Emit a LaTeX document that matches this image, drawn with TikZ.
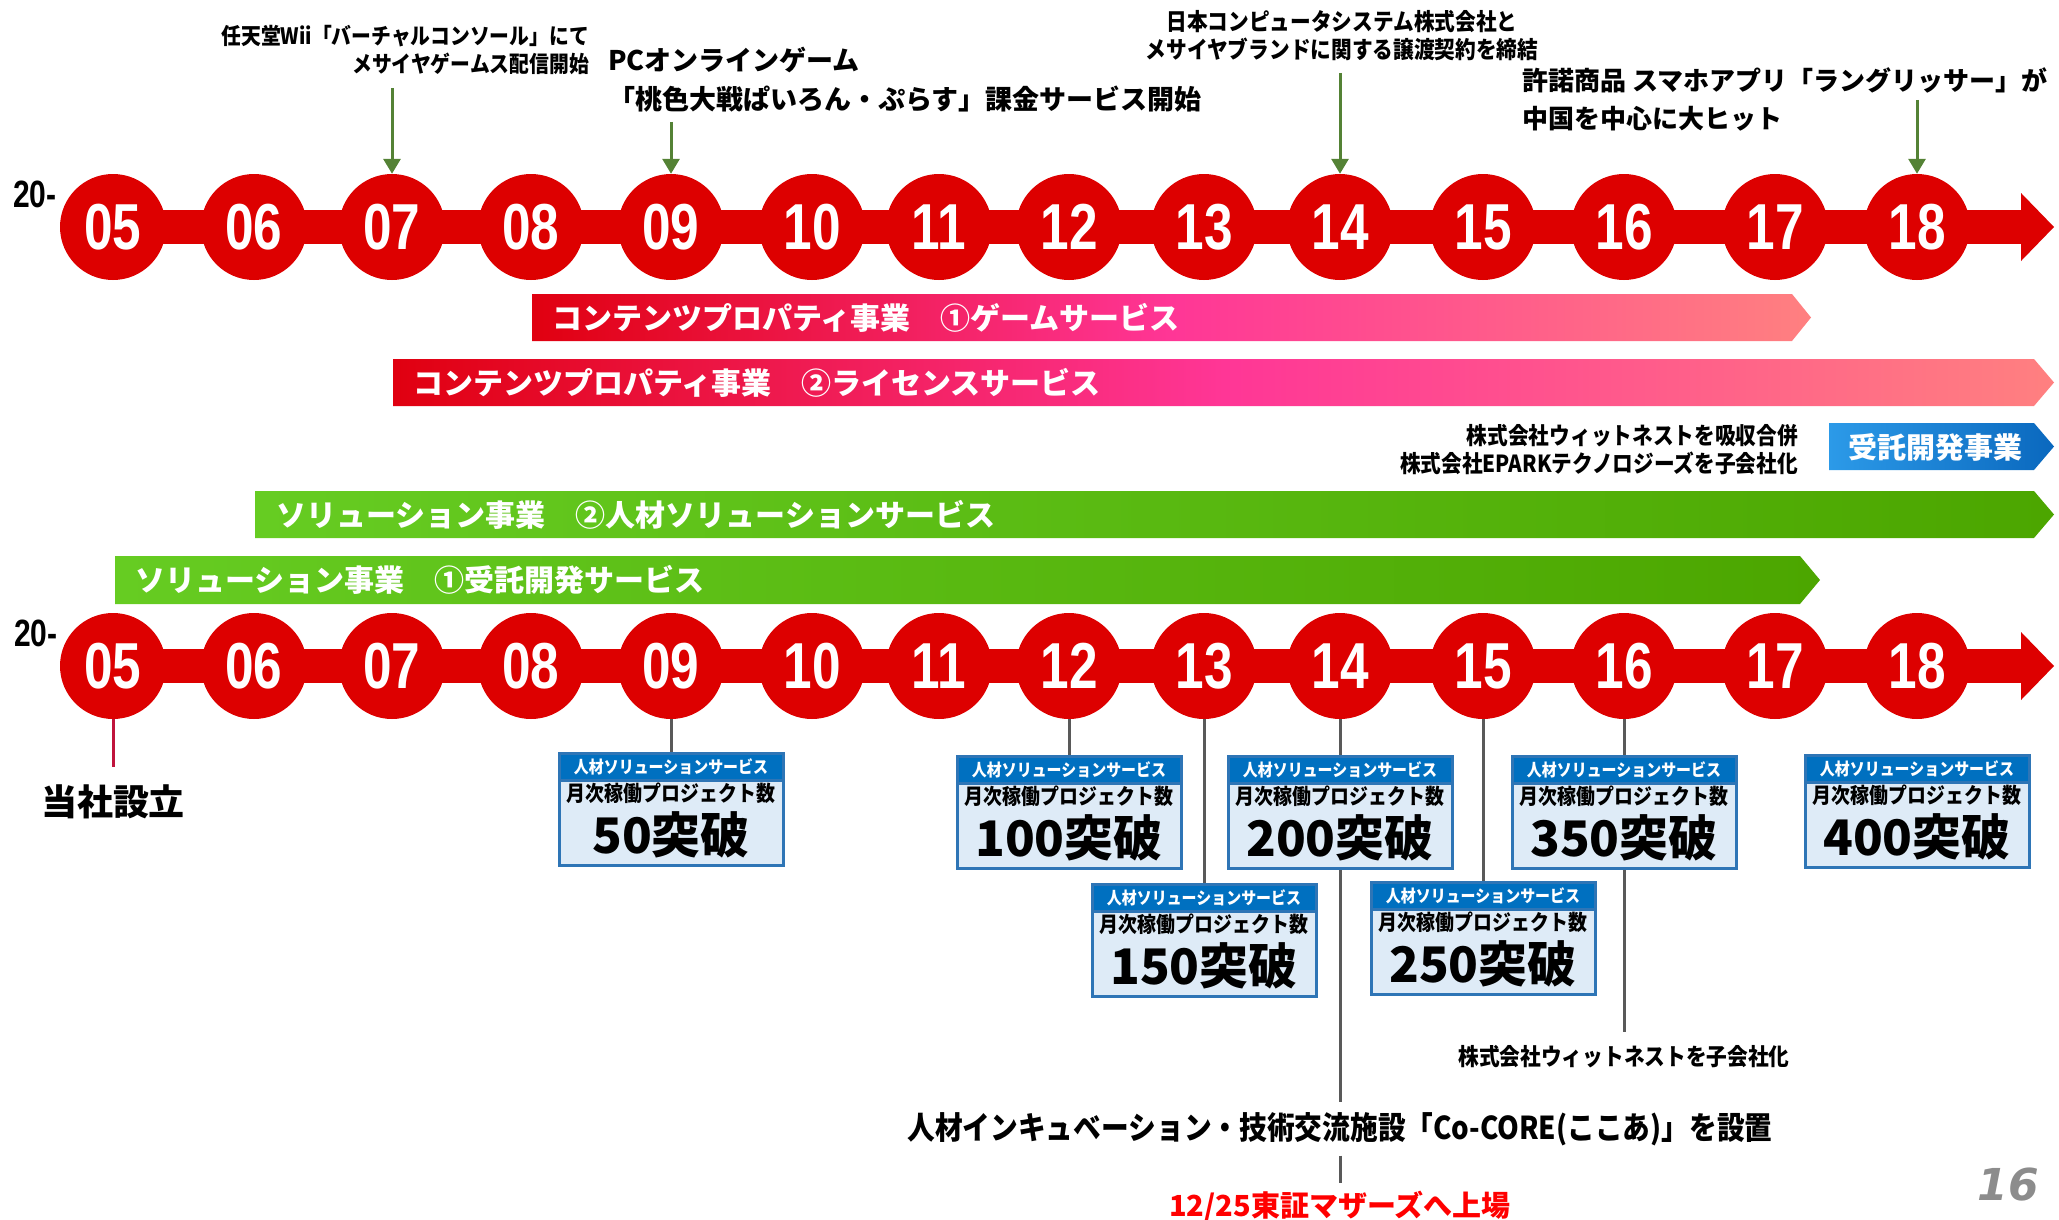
\documentclass[tikz,border=0pt]{standalone}
\usepackage{fontspec}
\setmainfont{Noto Sans CJK JP}
\newfontfamily\jpcond{Noto Sans CJK JP}[FakeStretch=0.88]
\newfontfamily\numfont{Liberation Sans}[FakeStretch=0.79]
\newfontfamily\pagefont{DejaVu Sans}
\usetikzlibrary{positioning, arrows.meta, calc}

\definecolor{tlred}{RGB}{221,0,0}
\definecolor{barred}{RGB}{224,0,16}
\definecolor{barpink}{RGB}{255,54,150}
\definecolor{barsalmon}{RGB}{255,128,128}
\definecolor{grnleft}{RGB}{102,204,34}
\definecolor{grnright}{RGB}{76,166,0}
\definecolor{blueleft}{RGB}{44,154,232}
\definecolor{blueright}{RGB}{10,104,190}
\definecolor{hdrblue}{RGB}{0,112,192}
\definecolor{boxedge}{RGB}{46,117,182}
\definecolor{boxfill}{RGB}{222,235,247}
\definecolor{stemgray}{RGB}{89,89,89}
\definecolor{evgreen}{RGB}{84,130,53}
\definecolor{foundred}{RGB}{192,20,60}
\definecolor{tsered}{RGB}{255,0,0}
\definecolor{pagegray}{RGB}{140,140,140}

\tikzset{
  yearball/.style={circle, fill=tlred, minimum size=106pt, inner sep=0pt, text=white,
    font=\numfont\bfseries\fontsize{65}{65}\selectfont},
  yearlabel/.style={inner sep=0pt, font=\numfont\bfseries\fontsize{38}{38}\selectfont},
  bartext/.style={anchor=west, text=white, inner sep=0pt, font=\bfseries\fontsize{30}{30}\selectfont},
  event/.style={inner sep=0pt, font=\bfseries},
  evarrow/.style={-{Triangle[width=17pt,length=15pt]}, line width=3pt, draw=evgreen},
  stem/.style={line width=3pt, draw=stemgray},
  foundline/.style={line width=3pt, draw=foundred},
  boxbody/.style={draw=boxedge, line width=3pt, fill=boxfill, minimum width=224pt,
    minimum height=112pt, inner sep=0pt, anchor=north},
  boxhead/.style={draw=boxedge, line width=3pt, fill=hdrblue, minimum width=224pt,
    minimum height=27pt, inner sep=0pt, anchor=north, text=white,
    font=\jpcond\bfseries\fontsize{17}{17}\selectfont},
}

% project count box: name, x, top, count
\newcommand\projbox[4]{%
  \node[boxbody] (#1) at (#2,#3) {};
  \node[boxhead] (#1h) at (#1.north) {人材ソリューションサービス};
  \node[inner sep=0pt, font=\jpcond\bfseries\fontsize{21.5}{21.5}\selectfont] (#1a) at ($(#1.north)+(0,41)$) {月次稼働プロジェクト数};
  \node[inner sep=0pt, font=\bfseries\fontsize{49}{49}\selectfont] (#1b) at ($(#1.north)+(0,83)$) {#4突破};
}

\begin{document}
\begin{tikzpicture}[x=1pt, y=-1pt]
	\useasboundingbox (0,0) rectangle (2059,1220);
	
	% timelines
	\fill[tlred] (113,210) rectangle (2022,244);
	\fill[tlred] (2021,193) -- (2054,227) -- (2021,261) -- cycle;
	\fill[tlred] (113,649) rectangle (2022,683);
	\fill[tlred] (2021,632) -- (2054,666) -- (2021,700) -- cycle;
	
	\foreach \yr/\xx in {05/113, 06/254, 07/392, 08/531, 09/671, 10/812, 11/939,
	                     12/1069, 13/1204, 14/1340, 15/1483, 16/1624, 17/1775, 18/1917} {
		\node[yearball] (t\yr) at (\xx,227) {\yr};
		\node[yearball] (b\yr) at (\xx,666) {\yr};
	}
	
	\node[yearlabel] (yr20t) at (35,194) {20-};
	\node[yearlabel] (yr20b) at (36,633) {20-};
	
	% business bars
	\shade[left color=barred, right color=barsalmon, middle color=barpink]
		(532,294) -- (1792,294) -- (1811,317.5) -- (1792,341) -- (532,341) -- cycle;
	\node[bartext] (gamebar) at (552,318) {コンテンツプロパティ事業　①ゲームサービス};
	
	\shade[left color=barred, right color=barsalmon, middle color=barpink]
		(393,359) -- (2034,359) -- (2054,382.5) -- (2034,406) -- (393,406) -- cycle;
	\node[bartext] (licbar) at (413,383) {コンテンツプロパティ事業　②ライセンスサービス};
	
	\shade[left color=blueleft, right color=blueright]
		(1829,423) -- (2034,423) -- (2054,446.5) -- (2034,470) -- (1829,470) -- cycle;
	\node[bartext, anchor=center, font=\bfseries\fontsize{29}{29}\selectfont] (jutaku) at (1935,447) {受託開発事業};
	
	\shade[left color=grnleft, right color=grnright]
		(255,491) -- (2034,491) -- (2054,514.5) -- (2034,538) -- (255,538) -- cycle;
	\node[bartext] (hrbar) at (276,515) {ソリューション事業　②人材ソリューションサービス};
	
	\shade[left color=grnleft, right color=grnright]
		(115,556) -- (1800,556) -- (1820,580) -- (1800,604) -- (115,604) -- cycle;
	\node[bartext] (devbar) at (135,580) {ソリューション事業　①受託開発サービス};
	
	\node[event, align=right, anchor=east, font=\jpcond\bfseries\fontsize{23.5}{28}\selectfont] (witmerge) at (1798,450)
		{株式会社ウィットネストを吸収合併\\株式会社EPARKテクノロジーズを子会社化};
	
	% events above
	\node[event, align=right, anchor=east, font=\jpcond\bfseries\fontsize{22.5}{28}\selectfont] (wii) at (589,50)
		{任天堂Wii「バーチャルコンソール」にて\\メサイヤゲームス配信開始};
	\node[event, align=left, anchor=west, font=\bfseries\fontsize{27}{39}\selectfont] (pcgame) at (608,80)
		{PCオンラインゲーム\\「桃色大戦ぱいろん・ぷらす」課金サービス開始};
	\node[event, align=center, font=\jpcond\bfseries\fontsize{23.5}{28}\selectfont] (jcs) at (1342,36)
		{日本コンピュータシステム株式会社と\\メサイヤブランドに関する譲渡契約を締結};
	\node[event, align=left, anchor=west, font=\bfseries\fontsize{26}{38}\selectfont] (langrisser) at (1522,99)
		{許諾商品 スマホアプリ「ラングリッサー」が\\中国を中心に大ヒット};
	
	\coordinate (ev07) at (392,88);
	\coordinate (ev09) at (671,122);
	\coordinate (ev14) at (1340,73);
	\coordinate (ev18) at (1917,100);
	\draw[evarrow] (ev07) -- (t07);
	\draw[evarrow] (ev09) -- (t09);
	\draw[evarrow] (ev14) -- (t14);
	\draw[evarrow] (ev18) -- (t18);
	
	% events below
	\node[event, outer sep=18pt, font=\bfseries\fontsize{36}{36}\selectfont] (found) at (113,802) {当社設立};
	\draw[foundline] (b05) -- (found);
	
	\projbox{p50}{671}{752}{50}
	\projbox{p100}{1069}{755}{100}
	\projbox{p200}{1340}{755}{200}
	\projbox{p350}{1624}{755}{350}
	\projbox{p400}{1917}{754}{400}
	\projbox{p150}{1204}{883}{150}
	\projbox{p250}{1483}{881}{250}
	
	\node[event, outer sep=10pt, font=\jpcond\bfseries\fontsize{31.5}{31.5}\selectfont] (cocore) at (1340,1129)
		{人材インキュベーション・技術交流施設「Co-CORE(ここあ)」を設置};
	\node[event, outer sep=8pt, text=tsered, font=\bfseries\fontsize{29}{29}\selectfont] (tse) at (1340,1206)
		{12/25東証マザーズへ上場};
	\node[event, outer sep=14pt, font=\jpcond\bfseries\fontsize{23.5}{23.5}\selectfont] (witsub) at (1624,1057)
		{株式会社ウィットネストを子会社化};
	
	\draw[stem] (b09) -- (p50);
	\draw[stem] (b12) -- (p100);
	\draw[stem] (b13) -- (p150);
	\draw[stem] (b14) -- (p200);
	\draw[stem] (b15) -- (p250);
	\draw[stem] (b16) -- (p350);
	\draw[stem] (p200) -- (cocore);
	\draw[stem] (cocore) -- (tse);
	\draw[stem] (p350) -- (witsub);
	
	\node[inner sep=0pt, text=pagegray, font=\pagefont\bfseries\itshape\fontsize{44}{44}\selectfont] (pageno) at (2008,1185) {16};
\end{tikzpicture}
\end{document}
